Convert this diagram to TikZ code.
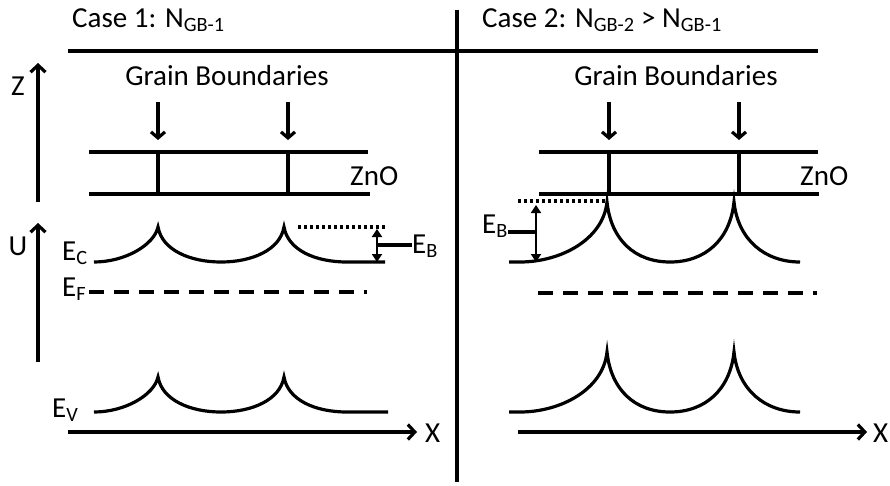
\documentclass[tikz,border=0pt]{standalone}
\usepackage{fontspec}
\setmainfont{Carlito}
\usepackage{tikz}
\usetikzlibrary{arrows.meta,positioning,calc}

\tikzset{
  lbl/.style={inner sep=0pt, anchor=base west, font=\fontsize{29}{33}\selectfont},
  band/.style={line width=3.2pt},
  axis/.style={line width=3.2pt, -{Straight Barb[length=7pt,width=15pt]}},
  gbarrow/.style={line width=3.2pt, -{Straight Barb[length=6pt,width=14pt]}},
  ebarrow/.style={line width=2.6pt, {Triangle[length=8pt,width=10pt]}-{Triangle[length=8pt,width=10pt]}},
  level/.style={line width=3.2pt, dash pattern=on 15pt off 10pt},
  barrier/.style={line width=3.2pt, dash pattern=on 3pt off 3pt}
}

\begin{document}
\begin{tikzpicture}[x=1pt, y=-1pt]
    \useasboundingbox (0,0) rectangle (890,485);

    % Frame
    \draw[band] (68,51) -- (818,51);
    \draw[band] (457,10) -- (457,482);
    \node[lbl] (case1) at (72,27) {Case 1: N\textsubscript{GB-1}};
    \node[lbl] (case2) at (482,27) {Case 2: N\textsubscript{GB-2} > N\textsubscript{GB-1}};

    % Axes
    \draw[axis] (38,202) -- (38,63);
    \node[lbl, anchor=base] (zlab) at (18,95) {Z};
    \draw[axis] (38,362) -- (38,223);
    \node[lbl, anchor=base] (ulab) at (18,255) {U};
    \draw[axis] (68,432) -- (417,432);
    \node[lbl] (xlab1) at (425,442) {X};
    \draw[axis] (518,432) -- (867,432);
    \node[lbl] (xlab2) at (873,442) {X};

    % Case 1: ZnO film
    \node[lbl, anchor=base] (gb1) at (227,85) {Grain Boundaries};
    \draw[gbarrow] (158,102) -- (158,140);
    \draw[gbarrow] (288,102) -- (288,140);
    \draw[band] (89,152) -- (368,152);
    \draw[band] (89,194) -- (370,194);
    \draw[band] (158,152) -- (158,194);
    \draw[band] (288,152) -- (288,194);
    \node[lbl] (zno1) at (350,185) {ZnO};

    % Case 1: bands
    \node[lbl] (ec1) at (62,260) {E\textsubscript{C}};
    \draw[band] (94,262) .. controls (125,262) and (154,245) .. (158,227)
        .. controls (162,250) and (190,262) .. (221,262)
        .. controls (252,262) and (280,250) .. (284,227)
        .. controls (288,250) and (315,262) .. (347,262) -- (385,262);
    \draw[barrier] (298,227) -- (385,227);
    \coordinate (eb1top) at (377,229);
    \coordinate (eb1bot) at (377,262);
    \draw[ebarrow] (eb1top) -- (eb1bot);
    \node[lbl] (eb1) at (412,253) {E\textsubscript{B}};
    \draw[band] (377,245) -- (eb1.west |- 0,245);
    \node[lbl] (ef1) at (62,296) {E\textsubscript{F}};
    \draw[level] (89,292) -- (367,292);
    \node[lbl] (ev1) at (52,417) {E\textsubscript{V}};
    \draw[band, shift={(0,150)}] (94,262) .. controls (125,262) and (154,245) .. (158,227)
        .. controls (162,250) and (190,262) .. (221,262)
        .. controls (252,262) and (280,250) .. (284,227)
        .. controls (288,250) and (315,262) .. (347,262) -- (388,262);

    % Case 2: ZnO film
    \node[lbl, anchor=base] (gb2) at (676,85) {Grain Boundaries};
    \draw[gbarrow] (609,102) -- (609,140);
    \draw[gbarrow] (739,102) -- (739,140);
    \draw[band] (539,152) -- (818,152);
    \draw[band] (539,194) -- (819,194);
    \draw[band] (609,152) -- (609,194);
    \draw[band] (739,152) -- (739,194);
    \node[lbl] (zno2) at (800,185) {ZnO};

    % Case 2: bands
    \draw[band] (509,262) -- (520,262) .. controls (560,262) and (603,240) .. (607,202)
        .. controls (611,240) and (635,262) .. (670,262)
        .. controls (705,262) and (730,240) .. (734,202)
        .. controls (738,240) and (765,262) .. (800,262);
    \draw[barrier] (518,201) -- (605,201);
    \coordinate (eb2top) at (536,205);
    \coordinate (eb2bot) at (536,262);
    \draw[ebarrow] (eb2top) -- (eb2bot);
    \node[lbl] (eb2) at (482,233) {E\textsubscript{B}};
    \draw[band] (eb2.east |- 0,232) -- (536,232);
    \draw[level] (538,293) -- (817,293);
    \draw[band, shift={(0,150)}] (509,262) -- (520,262) .. controls (560,262) and (603,240) .. (607,202)
        .. controls (611,240) and (635,262) .. (670,262)
        .. controls (705,262) and (730,240) .. (734,202)
        .. controls (738,240) and (765,262) .. (800,262);
\end{tikzpicture}
\end{document}
